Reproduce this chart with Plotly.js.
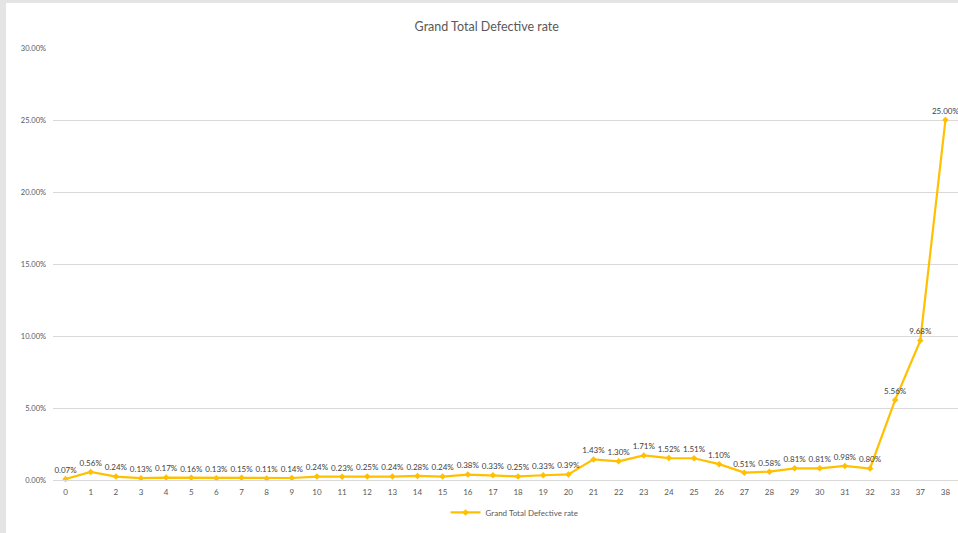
<!DOCTYPE html>
<html>
<head>
<meta charset="utf-8">
<script src="https://cdn.plot.ly/plotly-3.0.1.min.js"></script>
<style>
html,body{margin:0;padding:0;background:#e4e4e4;width:958px;height:533px;overflow:hidden;}
#chart{position:absolute;left:6px;top:3px;width:952px;height:530px;background:#fff;}
</style>
</head>
<body>
<div id="chart"></div>
<script>
const categories = ["0","1","2","3","4","5","6","7","8","9","10","11","12","13","14","15","16","17","18","19","20","21","22","23","24","25","26","27","28","29","30","31","32","33","37","38"];
const defectiveRate = [0.07,0.56,0.24,0.13,0.17,0.16,0.13,0.15,0.11,0.14,0.24,0.23,0.25,0.24,0.28,0.24,0.38,0.33,0.25,0.33,0.39,1.43,1.30,1.71,1.52,1.51,1.10,0.51,0.58,0.81,0.81,0.98,0.80,5.56,9.68,25.00];
const seriesName = "Grand Total Defective rate";
const yTicks = [0,5,10,15,20,25,30];

const trace = {
  x: categories,
  y: defectiveRate,
  type: 'scatter',
  mode: 'lines+markers+text',
  name: seriesName,
  line: {color: '#FFC000', width: 2.2},
  marker: {color: '#FFC000', size: 5, symbol: 'diamond'},
  texttemplate: '%{y:.2f}%',
  textposition: 'top center',
  textfont: {family: 'Lato, Open Sans, sans-serif', size: 8, color: '#404040'},
  cliponaxis: false
};

const layout = {
  width: 952, height: 530,
  margin: {l: 47, r: 0, t: 45, b: 53},
  paper_bgcolor: '#ffffff',
  plot_bgcolor: '#ffffff',
  font: {family: 'Lato, Open Sans, sans-serif', color: '#595959'},
  title: {text: 'Grand Total Defective rate', font: {size: 12.5, color: '#595959'}, x: 0.505, xanchor: 'center', y: 0.955, yanchor: 'middle'},
  xaxis: {
    type: 'category',
    range: [-0.5, categories.length - 0.5],
    showgrid: false,
    showline: true,
    linecolor: '#d9d9d9',
    linewidth: 1,
    ticks: '',
    tickfont: {size: 8, color: '#595959'},
    ticklabelstandoff: 4,
    zeroline: false,
    fixedrange: true
  },
  yaxis: {
    range: [0, 30],
    tickvals: yTicks,
    ticktext: yTicks.map(v => v.toFixed(2) + '%'),
    showgrid: true,
    gridcolor: '#d9d9d9',
    gridwidth: 1,
    zeroline: false,
    showline: false,
    ticks: '',
    tickfont: {size: 7.5, color: '#595959'},
    ticklabelstandoff: 6,
    fixedrange: true
  },
  showlegend: true,
  legend: {
    orientation: 'h',
    x: 0.51, xanchor: 'center',
    y: -0.075, yanchor: 'middle',
    font: {size: 8, color: '#595959'},
    bgcolor: 'rgba(0,0,0,0)'
  }
};

Plotly.newPlot('chart', [trace], layout, {displayModeBar: false, staticPlot: true});
</script>
</body>
</html>
